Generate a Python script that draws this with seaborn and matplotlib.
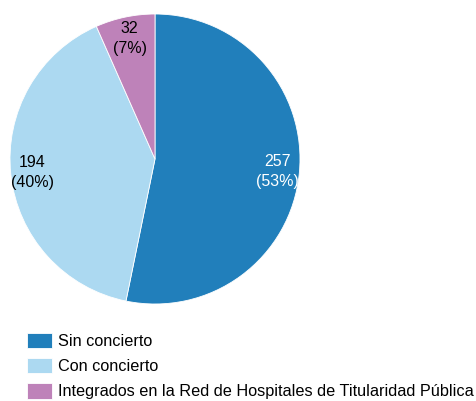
import matplotlib
matplotlib.use("Agg")
import matplotlib.pyplot as plt
import seaborn as sns

categorias = ["Sin concierto", "Con concierto", "Integrados en la Red de Hospitales de Titularidad Pública"]
valores = [257, 194, 32]
colores = ["#217fbb", "#acd9f1", "#be82b9"]

sns.set_theme(style="white")
plt.rcParams["font.family"] = ["Liberation Sans", "DejaVu Sans"]
plt.rcParams["text.color"] = "black"

fig = plt.figure(figsize=(4.77, 4.01), dpi=100)
ax = fig.add_axes([10 / 477, 97 / 401, 290 / 477, 290 / 401])

total = sum(valores)
etiquetas = [f"{v}\n({round(100 * v / total)}%)" for v in valores]

wedges, textos = ax.pie(valores, colors=colores, startangle=90, counterclock=False,
                        labels=etiquetas, labeldistance=0.85,
                        wedgeprops=dict(edgecolor="white", linewidth=0.6),
                        textprops=dict(fontsize=11.5, ha="center", va="center", linespacing=1.4,
                                       color="black"))
textos[0].set_color("white")
ax.set_aspect("equal")
ax.set_xlim(-1, 1)
ax.set_ylim(-1, 1)

fig.legend(wedges, categorias, loc="upper left", bbox_to_anchor=(21 / 477, 1 - 326 / 401),
           frameon=False, fontsize=11.7, handlelength=1.5, handleheight=1.1,
           handletextpad=0.4, labelspacing=0.55, borderaxespad=0)

fig.savefig("out.png", dpi=100)
